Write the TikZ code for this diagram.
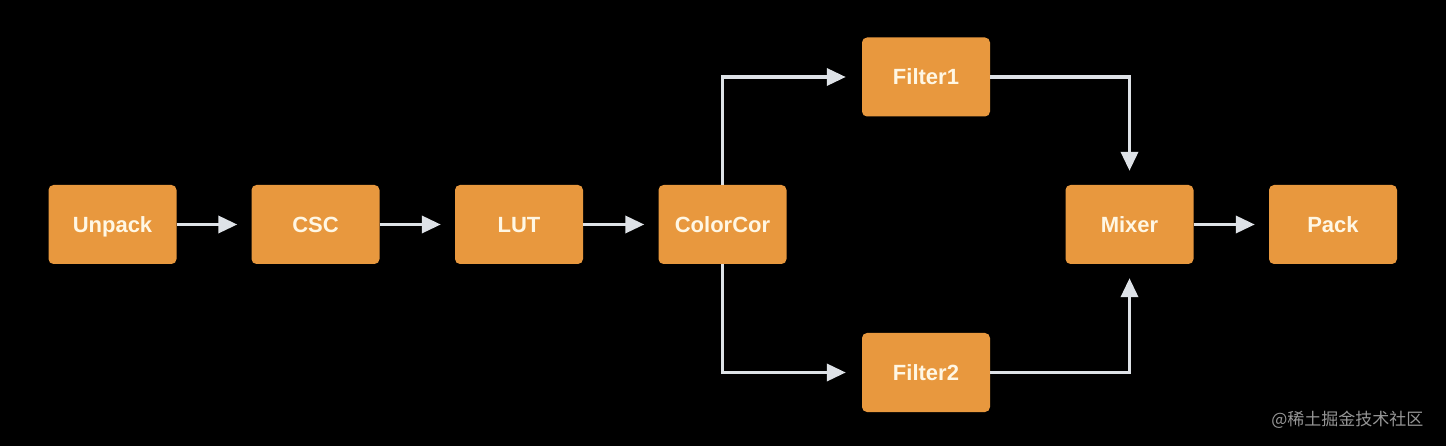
\documentclass[tikz,border=0pt]{standalone}
\usepackage{fontspec}
\setmainfont{Liberation Sans}
\newfontfamily\cjkfont{Noto Sans CJK SC}
\usetikzlibrary{positioning, arrows.meta}

\definecolor{boxorange}{RGB}{232,152,62}
\definecolor{boxtext}{RGB}{255,247,228}
\definecolor{linegray}{RGB}{222,226,231}
\definecolor{markgray}{RGB}{150,150,150}

\begin{document}
\begin{tikzpicture}[
    x=1pt, y=-1pt,
    stagestyle/.style={rectangle, rounded corners=5pt, fill=boxorange,
        minimum width=128pt, minimum height=79pt, inner sep=0pt,
        text height=16pt, text depth=0pt,
        text=boxtext, font=\fontsize{22}{26}\selectfont\bfseries},
    flowstyle/.style={draw=linegray, line width=3.5pt,
        -{Triangle[length=19pt, width=17pt]}, shorten >=14pt}
]

\fill[black] (0,0) rectangle (1446,446);
\useasboundingbox (0,0) rectangle (1446,446);

\node[stagestyle] (unpack) at (112.5,224.5) {Unpack};
\node[stagestyle] (csc) at (315.5,224.5) {CSC};
\node[stagestyle] (lut) at (519,224.5) {LUT};
\node[stagestyle] (colorcor) at (722.5,224.5) {ColorCor};

\node[stagestyle] (filter1) at (926,77) {Filter1};
\node[stagestyle] (filter2) at (926,372.5) {Filter2};

\node[stagestyle] (mixer) at (1129.5,224.5) {Mixer};
\node[stagestyle] (pack) at (1333,224.5) {Pack};

\draw[flowstyle] (unpack) -- (csc);
\draw[flowstyle] (csc) -- (lut);
\draw[flowstyle] (lut) -- (colorcor);

\draw[flowstyle, shorten >=16pt] (colorcor.north) |- (filter1.west);
\draw[flowstyle, shorten >=16pt] (colorcor.south) |- (filter2.west);

\draw[flowstyle] (filter1.east) -| (mixer.north);
\draw[flowstyle] (filter2.east) -| (mixer.south);

\draw[flowstyle] (mixer) -- (pack);

% watermark
\node[text=markgray, font=\cjkfont\fontsize{17}{20}\selectfont, anchor=east]
    (mark) at (1427,420) {@稀土掘金技术社区};

\end{tikzpicture}
\end{document}
